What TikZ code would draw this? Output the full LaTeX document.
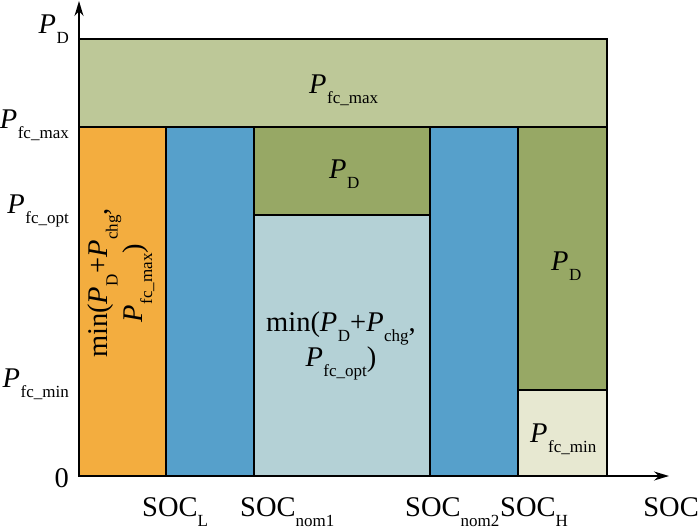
\documentclass[tikz,border=0pt]{standalone}
\usepackage{fontspec}
\setmainfont{Liberation Serif}
\usetikzlibrary{arrows.meta}

\definecolor{socorange}{RGB}{243,173,63}
\definecolor{socblue}{RGB}{86,160,203}
\definecolor{fcgreen}{RGB}{189,200,152}
\definecolor{pdgreen}{RGB}{151,168,101}
\definecolor{optcyan}{RGB}{180,209,214}
\definecolor{minpale}{RGB}{231,232,209}

\newcommand{\lowsub}[1]{\raisebox{-10pt}{\fontsize{17}{17}\selectfont #1}}
\newcommand{\Psub}[1]{\textit{P}\kern0.5pt\lowsub{#1}}
\newcommand{\SOCsub}[1]{SOC\lowsub{#1}}

\begin{document}
\begin{tikzpicture}[x=1pt,y=-1pt,font=\fontsize{28.5}{26}\selectfont,
    region/.style={draw=black,line width=2pt},
    axis/.style={line width=1.8pt,-{Stealth[length=15pt,width=9pt]}}]
    \useasboundingbox (0,0) rectangle (700,530);
    % regions
    \filldraw[region,fill=fcgreen] (79,39) rectangle (607,127);
    \filldraw[region,fill=socorange] (79,127) rectangle (166,476);
    \filldraw[region,fill=socblue] (166,127) rectangle (254,476);
    \filldraw[region,fill=pdgreen] (254,127) rectangle (430,215);
    \filldraw[region,fill=optcyan] (254,215) rectangle (430,476);
    \filldraw[region,fill=socblue] (430,127) rectangle (518,476);
    \filldraw[region,fill=pdgreen] (518,127) rectangle (607,390);
    \filldraw[region,fill=minpale] (518,390) rectangle (607,476);
    % axes
    \coordinate (o) at (79,476);
    \coordinate (ytip) at (79,1);
    \coordinate (xtip) at (669,476);
    \draw[axis] (o) -- (ytip);
    \draw[axis] (o) -- (xtip);
    % labels on the power axis
    \node[anchor=base east,inner sep=0pt] (lpd) at (69,33) {\Psub{D}};
    \node[anchor=base east,inner sep=0pt] (lmax) at (69,128) {\Psub{fc\_max}};
    \node[anchor=base east,inner sep=0pt] (lopt) at (69,213) {\Psub{fc\_opt}};
    \node[anchor=base east,inner sep=0pt] (lmin) at (69,387) {\Psub{fc\_min}};
    \node[anchor=base east,inner sep=0pt] (lzero) at (69,487) {0};
    % labels on the SOC axis
    \node[anchor=base west,inner sep=0pt] (socl) at (142,516) {\SOCsub{L}};
    \node[anchor=base west,inner sep=0pt] (socn1) at (240,516) {\SOCsub{nom1}};
    \node[anchor=base west,inner sep=0pt] (socn2) at (405,516) {\SOCsub{nom2}};
    \node[anchor=base west,inner sep=0pt] (soch) at (500,516) {\SOCsub{H}};
    \node[anchor=base east,inner sep=0pt] (soc) at (699,516) {SOC};
    % labels in the regions
    \node[anchor=base west,inner sep=0pt] (tmax) at (309,93) {\Psub{fc\_max}};
    \node[anchor=base west,inner sep=0pt] (tpd1) at (329,178) {\Psub{D}};
    \node[anchor=base west,inner sep=0pt] (tpd2) at (551,270) {\Psub{D}};
    \node[anchor=base west,inner sep=0pt] (tmin) at (530,442) {\Psub{fc\_min}};
    \node[align=center,rotate=90] (tcharge) at (121,283)
        {min(\Psub{D}+\Psub{chg},\\\Psub{fc\_max})};
    \node[align=center] (topt) at (341,346)
        {min(\Psub{D}+\Psub{chg},\\\Psub{fc\_opt})};
\end{tikzpicture}
\end{document}
